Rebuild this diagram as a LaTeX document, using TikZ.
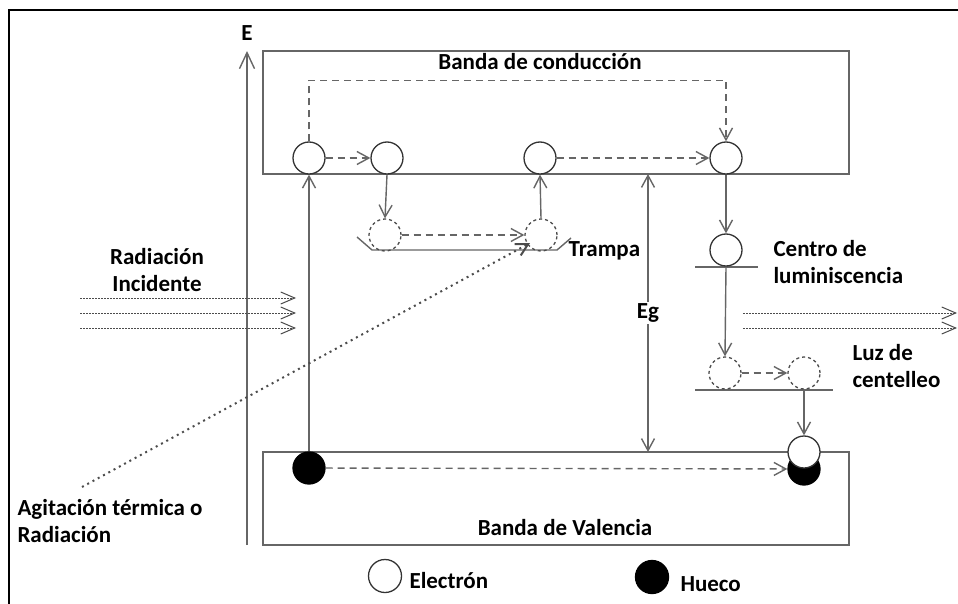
\documentclass[tikz,border=0pt]{standalone}
\usepackage{fontspec}
\setmainfont{Carlito}
\usetikzlibrary{calc}
\usetikzlibrary{arrows.meta}

\begin{document}
\begin{tikzpicture}[x=1pt, y=-1pt,
    font=\fontsize{23}{27}\selectfont\bfseries,
    linea/.style={black!60, line width=1.4pt},
    flecha/.style={linea, -{Straight Barb[length=12pt, width=13pt]}},
    salto/.style={flecha, dash pattern=on 7pt off 5pt},
    rayo/.style={black!70, line width=1pt, dash pattern=on 2pt off 1pt, -{Straight Barb[length=14pt, width=12pt]}},
    puntos/.style={black!70, line width=2pt, dash pattern=on 2pt off 4pt, -{Straight Barb[length=12pt, width=13pt]}},
    elec/.style={circle, draw=black!80, fill=white, line width=1.3pt, minimum size=32pt, inner sep=0pt},
    hueco/.style={elec, draw=black, fill=black},
    vacio/.style={circle, draw=black!70, line width=1.3pt, dash pattern=on 3pt off 3pt, minimum size=32pt, inner sep=0pt}]

    \useasboundingbox (0,0) rectangle (958,604);
    \draw[line width=2pt] (9,610) -- (9,10) -- (965,10);

    % eje de energia
    \coordinate (ejeO) at (247,545);
    \coordinate (ejeE) at (247,51);
    \draw[flecha, -{Straight Barb[length=16pt, width=15pt]}] (ejeO) -- (ejeE);
    \node (E) at (247,33) {E};

    % bandas
    \draw[linea] (263,51) rectangle (849,174);
    \draw[linea] (263,452) rectangle (849,545);
    \node (bc) at (540,62) {Banda de conducción};
    \node (bv) at (565,528) {Banda de Valencia};

    % niveles
    \draw[linea] (357,237) -- (372,250) -- (557,250) -- (571,238);
    \draw[linea] (695,267) -- (758,267);
    \draw[linea] (695,390) -- (833,390);

    % portadores
    \node[elec] (c1) at (309,158) {};
    \node[elec] (c2) at (387,158) {};
    \node[elec] (c3) at (540,158) {};
    \node[elec] (c4) at (726,158) {};
    \node[vacio] (t1) at (385,235) {};
    \node[vacio] (t2) at (541,235) {};
    \node[elec] (l1) at (726,250) {};
    \node[vacio] (s1) at (725,373) {};
    \node[vacio] (s2) at (804,373) {};
    \node[hueco] (h1) at (309,468) {};
    \node[hueco] (h2) at (804,469) {};
    \node[elec] (e5) at (804,452) {};

    % transiciones
    \draw[flecha] (h1.north) -- (c1.south);
    \draw[salto] (c1) -- (c2);
    \draw[salto] (c1.north) -- ++(0,-61) -| (c4.north);
    \draw[flecha] (c2.south) -- (t1.north);
    \draw[salto] (t1) -- (t2);
    \draw[flecha] (t2.north) -- (c3.south);
    \draw[salto] (c3) -- (c4);
    \draw[flecha] (c4.south) -- (l1.north);
    \draw[flecha] (l1.south) -- (s1.north);
    \draw[salto] (s1) -- (s2);
    \draw[flecha] (s2.south) -- (e5.north);
    \draw[salto] (h1) -- (h2);

    % gap
    \coordinate (eg1) at (648,174);
    \coordinate (eg2) at (648,452);
    \draw[linea, {Straight Barb[length=12pt, width=13pt]}-{Straight Barb[length=12pt, width=13pt]}] (eg1) -- node[fill=white, text=black, inner sep=2pt] (Eg) {Eg} (eg2);

    % radiacion
    \foreach \y in {298,313,328} {
        \coordinate (ri\y) at (80,\y);
        \coordinate (rf\y) at (296,\y);
        \draw[rayo] (ri\y) -- (rf\y);
    }
    \foreach \y in {313,328} {
        \coordinate (li\y) at (743,\y);
        \coordinate (lf\y) at (957,\y);
        \draw[rayo] (li\y) -- (lf\y);
    }
    \coordinate (agit) at (82,487);
    \coordinate (agitfin) at (530,243);
    \draw[puntos] (agit) -- (agitfin);

    % textos
    \node[anchor=west] (trampa) at (565,251) {Trampa};
    \node[align=center] (rad) at (157,270) {Radiación\\Incidente};
    \node[anchor=west, align=left] (centro) at (770,262) {Centro de\\luminiscencia};
    \node[anchor=west, align=left] (luz) at (849,366) {Luz de\\centelleo};
    \node[anchor=west, align=left] (agitac) at (14,521) {Agitación térmica o\\Radiación};

    % leyenda
    \node[elec, minimum size=33pt] (le) at (385,576) {};
    \node[anchor=west] (tle) at (406,581) {Electrón};
    \node[hueco, minimum size=33pt] (lh) at (652,577) {};
    \node[anchor=west] (tlh) at (677,584) {Hueco};
\end{tikzpicture}
\end{document}
